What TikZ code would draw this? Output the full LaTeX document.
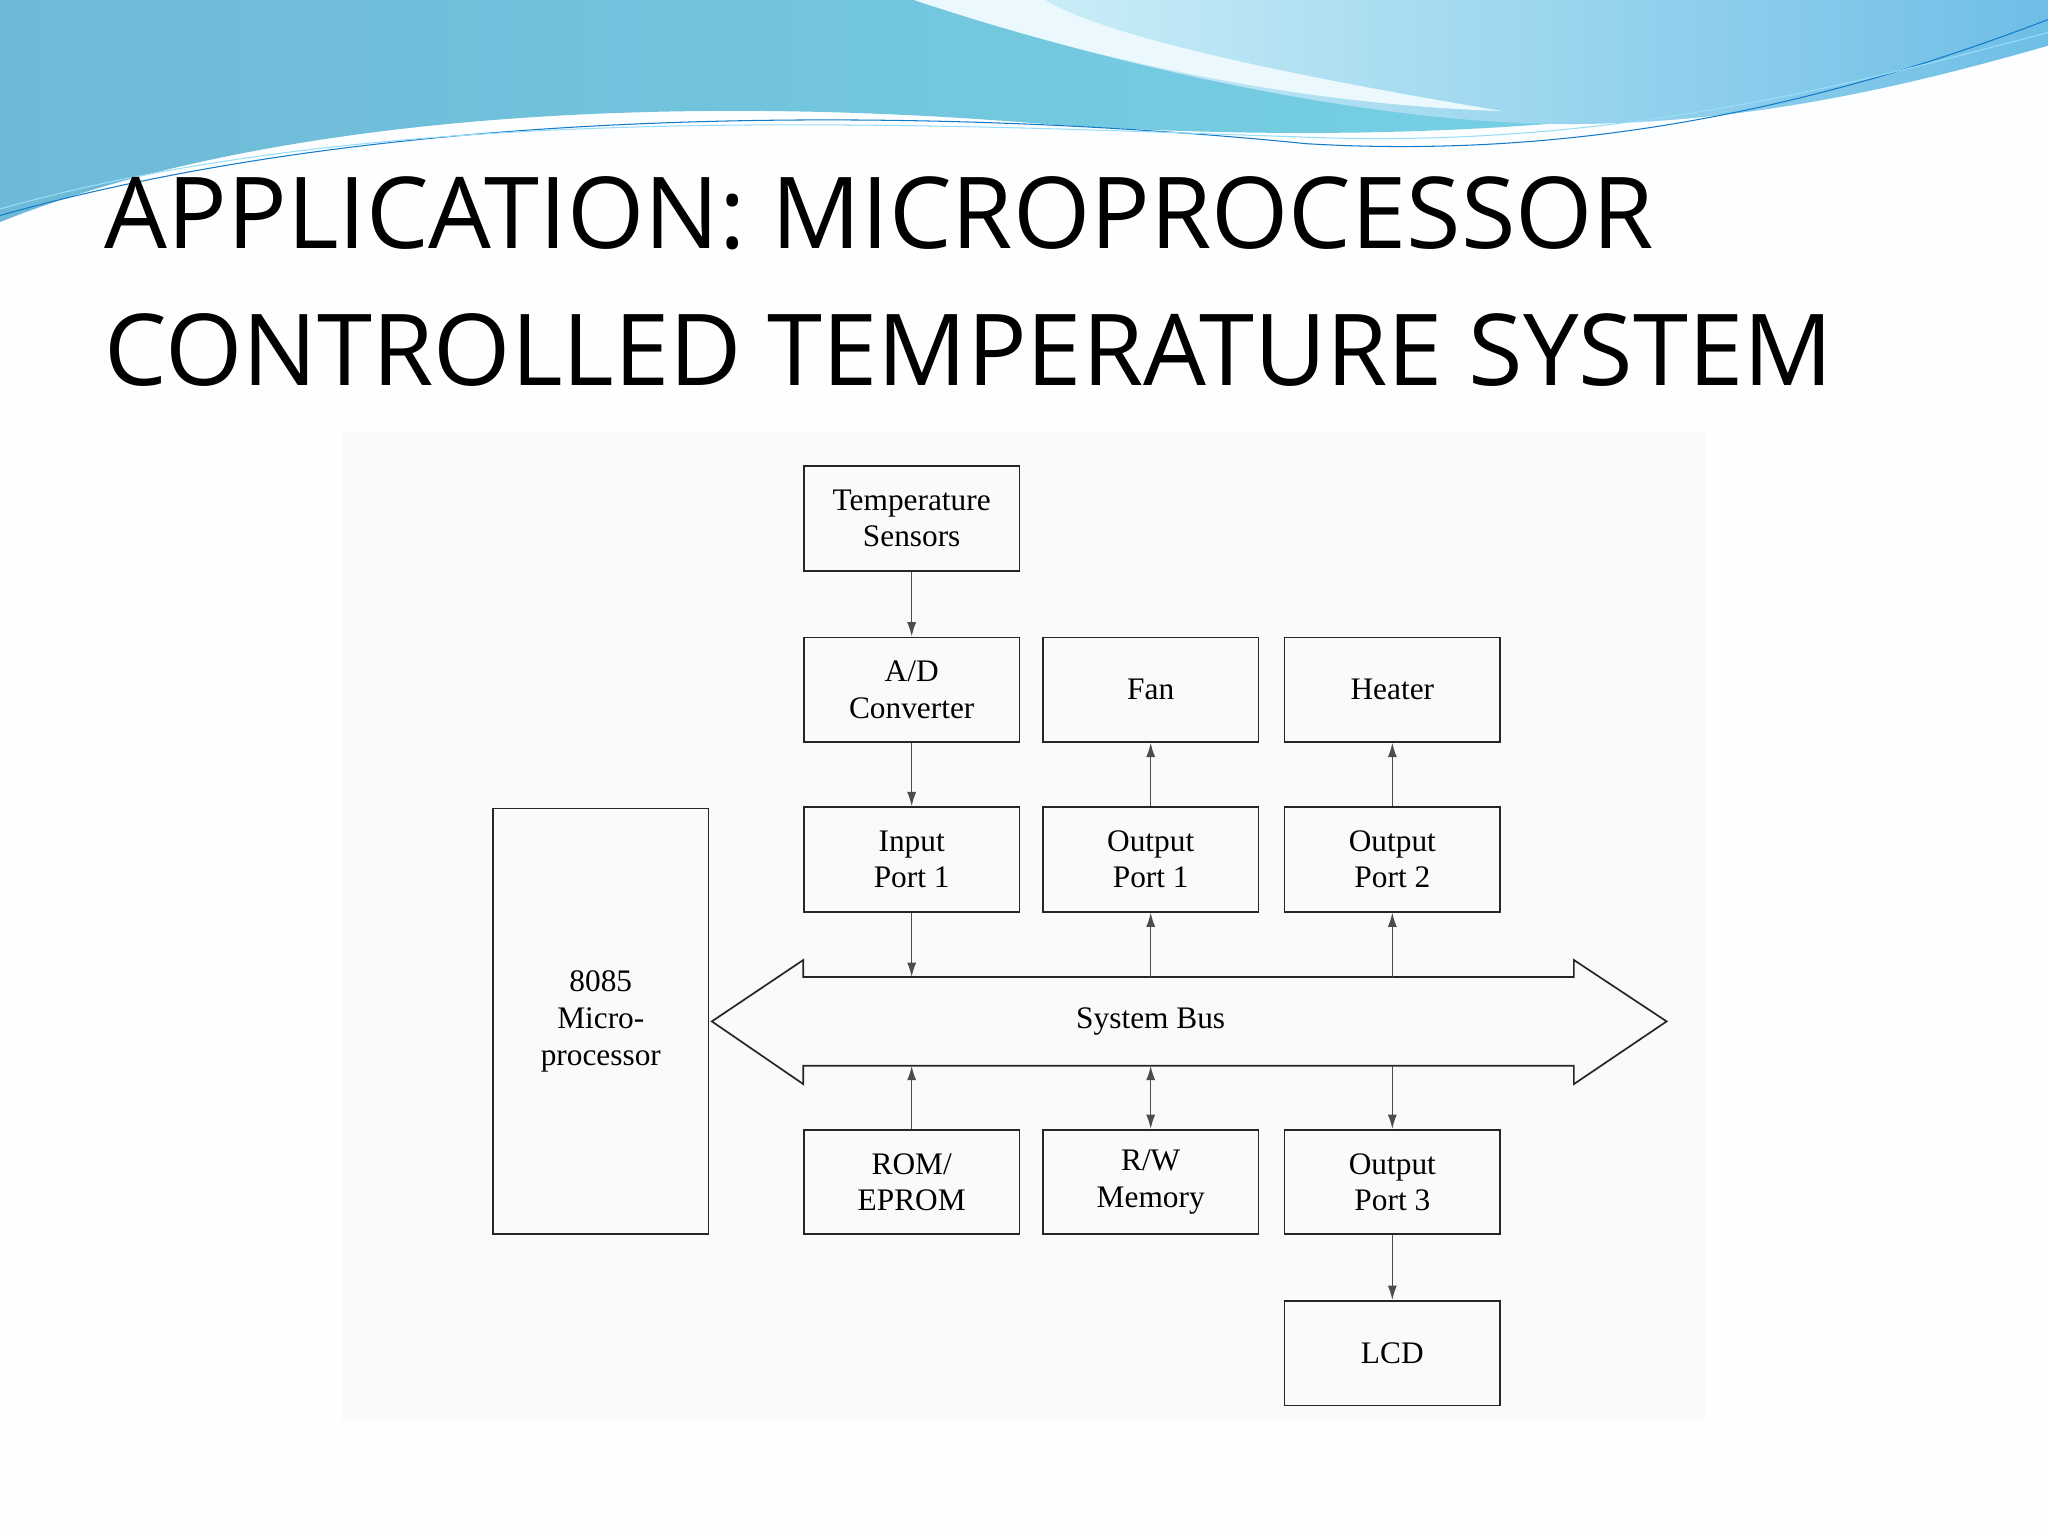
\documentclass[tikz,border=0pt]{standalone}
\usepackage{fontspec}
\setmainfont{Liberation Serif}
\newfontfamily\titlefont{Open Sans}
\usetikzlibrary{arrows.meta}
\definecolor{wvA}{RGB}{110,185,215}
\definecolor{wvB}{RGB}{120,215,230}
\definecolor{wvC}{RGB}{150,225,240}
\definecolor{wvD}{RGB}{110,190,230}
\begin{document}
\begin{tikzpicture}[x=1pt,y=-1pt,
  blk/.style={draw=black!85,line width=1.3pt,minimum width=165pt,minimum height=80pt,align=center,font=\fontsize{24}{28}\selectfont,inner sep=0pt},
  conn/.style={draw=black!70,line width=1.2pt,-{Latex[length=11pt,width=7pt]}},
  conn2/.style={draw=black!70,line width=1.2pt,{Latex[length=11pt,width=7pt]}-{Latex[length=11pt,width=7pt]}}]
\useasboundingbox (0,0) rectangle (1568,1176);
\fill[white!97!cyan!40!white] (0,0) rectangle (1568,1176);
\fill[black!2] (262,330) rectangle (1305,1088);
% header waves
\shade[left color=wvA,right color=wvB] (0,0) -- (0,170) .. controls (200,90) and (500,70) .. (800,95) .. controls (1100,115) and (1350,90) .. (1568,30) -- (1568,0) -- cycle;
\shade[left color=wvC!40!white,right color=wvD] (700,0) .. controls (850,50) and (1050,95) .. (1200,95) .. controls (1350,95) and (1480,60) .. (1568,35) -- (1568,0) -- cycle;
\fill[white!92!cyan] (700,0) .. controls (850,50) and (1000,80) .. (1150,85) .. controls (1000,60) and (850,30) .. (800,0) -- cycle;
\draw[cyan!60!blue,line width=0.8pt] (0,165) .. controls (300,80) and (700,80) .. (1000,110) .. controls (1250,125) and (1450,60) .. (1568,15);
\draw[cyan!40,line width=0.8pt] (0,160) .. controls (300,75) and (700,95) .. (1000,105) .. controls (1250,115) and (1450,55) .. (1568,25);
\node[anchor=base west,font=\titlefont\fontsize{76}{90}\selectfont,inner sep=0pt] (t1) at (80,190) {APPLICATION: MICROPROCESSOR};
\node[anchor=base west,font=\titlefont\fontsize{76}{90}\selectfont,inner sep=0pt] (t2) at (80,295) {CONTROLLED TEMPERATURE SYSTEM};
% blocks
\node[blk] (ts) at (698,397) {Temperature\\Sensors};
\node[blk] (ad) at (698,528) {A/D\\Converter};
\node[blk] (fan) at (881,528) {Fan};
\node[blk] (heat) at (1066,528) {Heater};
\node[blk] (ip1) at (698,658) {Input\\Port 1};
\node[blk] (op1) at (881,658) {Output\\Port 1};
\node[blk] (op2) at (1066,658) {Output\\Port 2};
\node[blk,minimum height=326pt] (mp) at (460,782) {8085\\Micro-\\processor};
\node[blk] (rom) at (698,905) {ROM/\\EPROM};
\node[blk] (rw) at (881,905) {R/W\\Memory};
\node[blk] (op3) at (1066,905) {Output\\Port 3};
\node[blk] (lcd) at (1066,1036) {LCD};
% bus
\draw[black!85,line width=1.3pt,fill=black!2] (545,782) -- (615,735) -- (615,748) -- (1205,748) -- (1205,735) -- (1276,782) -- (1205,830) -- (1205,816) -- (615,816) -- (615,830) -- cycle;
\node[font=\fontsize{24}{28}\selectfont] (bus) at (881,782) {System Bus};
\coordinate (b1t) at (698,748); \coordinate (b2t) at (881,748); \coordinate (b3t) at (1066,748);
\coordinate (b1b) at (698,816); \coordinate (b2b) at (881,816); \coordinate (b3b) at (1066,816);
\draw[conn] (ts) -- (ad);
\draw[conn] (ad) -- (ip1);
\draw[conn] (op1) -- (fan);
\draw[conn] (op2) -- (heat);
\draw[conn] (ip1) -- (b1t);
\draw[conn] (b2t) -- (op1);
\draw[conn] (b3t) -- (op2);
\draw[conn] (rom) -- (b1b);
\draw[conn2] (b2b) -- (rw);
\draw[conn] (b3b) -- (op3);
\draw[conn] (op3) -- (lcd);
\end{tikzpicture}
\end{document}
